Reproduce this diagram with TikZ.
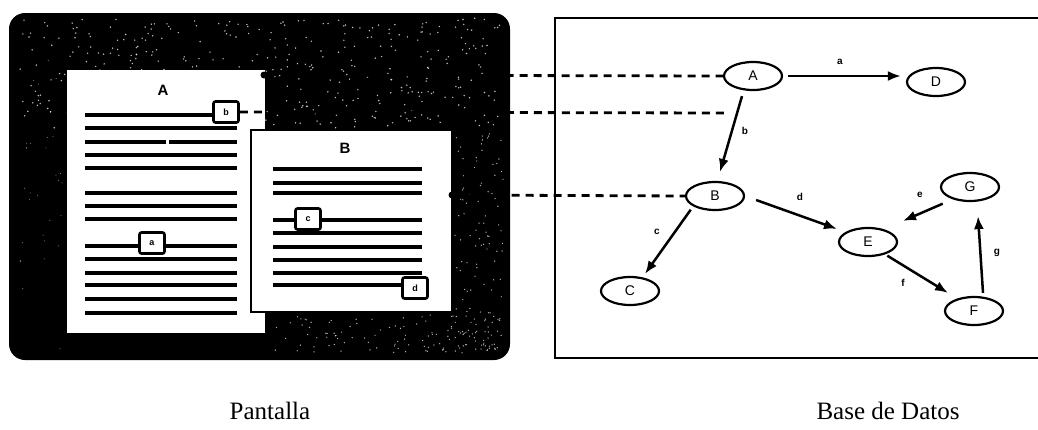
\documentclass[tikz,border=0pt]{standalone}
\usepackage{fontspec}
\setmainfont{Liberation Serif}
\newfontfamily\sansf{Liberation Sans}
\usetikzlibrary{shapes.geometric,arrows.meta}
\tikzset{
  gnode/.style={draw, ellipse, line width=2.2pt, minimum width=58pt, minimum height=28pt, inner sep=0pt, font=\sansf\fontsize{14}{14}\selectfont},
  garrow/.style={line width=2.5pt, -{Latex[length=13pt,width=10pt]}},
  elabel/.style={font=\sansf\bfseries\fontsize{10}{10}\selectfont, inner sep=0pt},
  txtline/.style={line width=3.4pt},
  linkbox/.style={draw, line width=2.6pt, rounded corners=2pt, fill=white, minimum width=25pt, minimum height=21pt, inner sep=0pt, font=\sansf\bfseries\fontsize{9}{9}\selectfont},
  dashlink/.style={line width=2.8pt, dash pattern=on 8pt off 6pt},
  wtitle/.style={font=\sansf\bfseries\fontsize{15}{15}\selectfont, inner sep=0pt},
  anchordot/.style={circle, fill=black, inner sep=0pt, minimum size=7pt},
  caption/.style={font=\fontsize{25}{25}\selectfont, inner sep=0pt}
}
\begin{document}
\begin{tikzpicture}[x=1pt,y=-1pt]
\useasboundingbox (0,0) rectangle (1038,429);
% ---------- Pantalla ----------
\fill[black, rounded corners=16pt] (9,13) rectangle (510,360);
\pgfmathsetseed{17}
\foreach \i in {1,...,420}{
  \pgfmathsetmacro\xx{20+480*rnd}
  \pgfmathsetmacro\yy{18+110*rnd}
  \fill[white, opacity=0.75] (\xx,\yy) circle (0.8pt);
}
\foreach \i in {1,...,110}{
  \pgfmathsetmacro\xx{455+48*rnd}
  \pgfmathsetmacro\yy{125+225*rnd}
  \fill[white, opacity=0.7] (\xx,\yy) circle (0.7pt);
}
\foreach \i in {1,...,110}{
  \pgfmathsetmacro\xx{270+230*rnd}
  \pgfmathsetmacro\yy{315+38*rnd}
  \fill[white, opacity=0.7] (\xx,\yy) circle (0.7pt);
}
\foreach \i in {1,...,30}{
  \pgfmathsetmacro\xx{18+45*rnd}
  \pgfmathsetmacro\yy{60+290*rnd}
  \fill[white, opacity=0.6] (\xx,\yy) circle (0.5pt);
}
% window A
\fill[white] (67,70) rectangle (265,333);
\node[wtitle] (tA) at (163,90) {A};
\foreach \y in {115,128,155,168,193,206,219,246,259,273,285,299,313}{
  \draw[txtline] (85,\y) -- (237,\y);
}
\draw[txtline] (85,142) -- (166,142);
\draw[txtline] (169,142) -- (237,142);
\node[linkbox] (bxb) at (226,112) {b};
\node[linkbox] (bxa) at (152,243) {a};
\node[anchordot] (pA) at (264,75) {};
% window B
\draw[fill=white, line width=1.5pt] (251,130) rectangle (452,312);
\node[wtitle] (tB) at (345,148) {B};
\foreach \y in {169,183,193,220,233,247,260,273,285}{
  \draw[txtline] (273,\y) -- (422,\y);
}
\node[linkbox] (bxc) at (308,219) {c};
\node[linkbox] (bxd) at (415,288) {d};
\node[anchordot] (pB) at (452,195) {};
% ---------- Base de Datos ----------
\draw[line width=2.2pt] (1040,18) -- (555,18) -- (555,358) -- (1040,358);
\node[gnode] (A) at (753,76) {A};
\node[gnode] (D) at (936,82) {D};
\node[gnode] (B) at (715,196) {B};
\node[gnode] (G) at (970,187) {G};
\node[gnode] (E) at (868,242) {E};
\node[gnode] (C) at (630,291) {C};
\node[gnode] (F) at (974,311) {F};
\coordinate (bend) at (727,113);
% links
\draw[dashlink] (pA) -- (A.west);
\draw[dashlink] (bxb.east) -- (bend);
\draw[dashlink] (pB) -- (B.west);
% edges
\draw[garrow] ([xshift=5pt]A.east) -- ([xshift=-5pt]A.east -| D.west);
\draw[garrow] ([xshift=-11pt,yshift=-5pt]A.south) -- ([xshift=5pt,yshift=9pt]B.north);
\draw[garrow] ([xshift=-3pt,yshift=-3pt]B.south west) -- ([xshift=15pt,yshift=2pt]C.north);
\draw[garrow] ([xshift=11pt,yshift=-4pt]B.east) -- ([xshift=-31pt,yshift=-2pt]E.north);
\draw[garrow] ([xshift=-6pt,yshift=-6pt]G.south west) -- ([xshift=35pt,yshift=6pt]E.north);
\draw[garrow] ([xshift=-2pt,yshift=-3pt]E.south east) -- ([xshift=-26pt,yshift=3pt]F.north);
\draw[garrow] ([xshift=9pt,yshift=3pt]F.north) -- ([xshift=8pt,yshift=-14pt]G.south);
% edge labels
\node[elabel] (la) at (840,62) {a};
\node[elabel] (lb) at (745,131) {b};
\node[elabel] (lc) at (657,232) {c};
\node[elabel] (ld) at (800,197) {d};
\node[elabel] (le) at (920,195) {e};
\node[elabel] (lf) at (903,283) {f};
\node[elabel] (lg) at (997,253) {g};
% captions
\node[caption] (cap1) at (270,411) {Pantalla};
\node[caption] (cap2) at (888,411) {Base de Datos};
\end{tikzpicture}
\end{document}
